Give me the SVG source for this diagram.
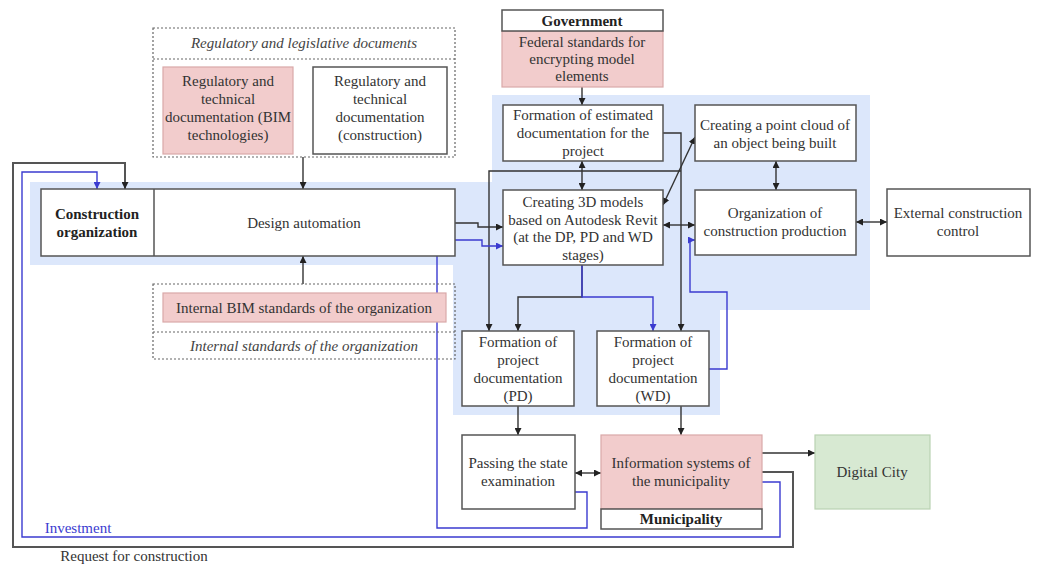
<svg xmlns="http://www.w3.org/2000/svg" width="1037" height="565" viewBox="0 0 1037 565">
<defs>
<style>
text{font-family:"Liberation Serif","Times New Roman",serif;font-size:15px;fill:#333;text-anchor:middle}
.b{font-weight:bold;fill:#222}
.i{font-style:italic;fill:#444}
.box{fill:#fff;stroke:#555;stroke-width:1.5}
.pink{fill:#f2cccc;stroke:#d9a8a8;stroke-width:1.2}
.green{fill:#d7e9d2;stroke:#b9d2b2;stroke-width:1.2}
.dash{fill:none;stroke:#666;stroke-width:1.2;stroke-dasharray:2 2}
.k{fill:none;stroke:#333;stroke-width:1.4}
.g{fill:none;stroke:#555;stroke-width:2}
.u{fill:none;stroke:#3b3bd0;stroke-width:1.4}
.ka{marker-end:url(#ak)}
.kd{marker-start:url(#ak);marker-end:url(#ak)}
.ua{marker-end:url(#au)}
</style>
<marker id="ak" viewBox="0 0 10 10" refX="10" refY="5" markerWidth="7" markerHeight="7" markerUnits="userSpaceOnUse" orient="auto-start-reverse"><path d="M0,0L10,5L0,10z" fill="#222"/></marker>
<marker id="au" viewBox="0 0 10 10" refX="10" refY="5" markerWidth="7" markerHeight="7" markerUnits="userSpaceOnUse" orient="auto-start-reverse"><path d="M0,0L10,5L0,10z" fill="#3b3bd0"/></marker>
</defs>
<rect width="1037" height="565" fill="#fff"/>
<path id="bg" d="M30,182H492V95H870V310H720V415H453V265H30Z" fill="#dce7fb"/>

<g id="connectors">
<path class="k ka" d="M303,157V189"/>
<path class="k ka" d="M303,284V256"/>
<path class="k ka" d="M582,87V105"/>
<path class="k kd" d="M582,161V190"/>
<path class="k ka" d="M455,223H478V227H503"/>
<path class="k kd" d="M663,205L695,137"/>
<path class="k kd" d="M663,225H695"/>
<path class="k kd" d="M776,161V190"/>
<path class="k kd" d="M856,222H887"/>
<path class="k ka" d="M663,133H681V331"/>
<path class="k ka" d="M681,171H489V331"/>
<path class="k ka" d="M582,265V297H518V331"/>
<path class="u ua" d="M582,265V297H653V331"/>
<path class="u ua" d="M709,369H727V292H690V240H695"/>
<path class="u ua" d="M575,492H587V528H437V240H482V246H503"/>
<path class="k ka" d="M518,406V435"/>
<path class="k ka" d="M681,406V435"/>
<path class="k kd" d="M575,473H601"/>
<path class="k ka" d="M762,453H815"/>
<path class="g ka" d="M762,472H793V547H13V163H125V189"/>
<path class="u ua" d="M762,482H780V537H22V172H97V189"/>
<text x="78" y="533" style="fill:#3b3bd0">Investment</text>
<text x="134" y="561">Request for construction</text>
</g>

<g id="regulatory">
<rect class="dash" x="153" y="28" width="302" height="129"/>
<line class="dash" x1="153" y1="59" x2="455" y2="59"/>
<text class="i" x="304" y="48">Regulatory and legislative documents</text>
</g>
<g id="reg-bim">
<rect class="pink" x="163" y="67" width="130" height="87"/>
<text x="228" y="86">Regulatory and</text>
<text x="228" y="104">technical</text>
<text x="228" y="122">documentation (BIM</text>
<text x="228" y="140">technologies)</text>
</g>
<g id="reg-constr">
<rect class="box" x="313" y="67" width="134" height="87"/>
<text x="380" y="86">Regulatory and</text>
<text x="380" y="104">technical</text>
<text x="380" y="122">documentation</text>
<text x="380" y="140">(construction)</text>
</g>

<g id="construction-org">
<rect class="box" x="41" y="189" width="414" height="67"/>
<line x1="154" y1="189" x2="154" y2="256" stroke="#555" stroke-width="1.5"/>
<text class="b" x="97" y="219">Construction</text>
<text class="b" x="97" y="237">organization</text>
</g>
<g id="design-automation">
<text x="304" y="228">Design automation</text>
</g>

<g id="internal">
<rect class="dash" x="153" y="284" width="302" height="75"/>
<line class="dash" x1="153" y1="332" x2="455" y2="332"/>
<rect class="pink" x="163" y="293" width="283" height="29"/>
<text x="304" y="313">Internal BIM standards of the organization</text>
<text class="i" x="304" y="351">Internal standards of the organization</text>
</g>

<g id="government">
<rect class="pink" x="502" y="31" width="161" height="56"/>
<rect class="box" x="502" y="10" width="161" height="21"/>
<text class="b" x="582" y="26">Government</text>
<text x="582" y="47">Federal standards for</text>
<text x="582" y="64">encrypting model</text>
<text x="582" y="81">elements</text>
</g>

<g id="estimated">
<rect class="box" x="503" y="105" width="160" height="56"/>
<text x="583" y="120">Formation of estimated</text>
<text x="583" y="138">documentation for the</text>
<text x="583" y="156">project</text>
</g>

<g id="point-cloud">
<rect class="box" x="695" y="105" width="161" height="56"/>
<text x="775" y="130">Creating a point cloud of</text>
<text x="775" y="148">an object being built</text>
</g>

<g id="models3d">
<rect class="box" x="503" y="190" width="160" height="75"/>
<text x="583" y="207">Creating 3D models</text>
<text x="583" y="225">based on Autodesk Revit</text>
<text x="583" y="242">(at the DP, PD and WD</text>
<text x="583" y="260">stages)</text>
</g>

<g id="org-production">
<rect class="box" x="695" y="190" width="161" height="65"/>
<text x="775" y="218">Organization of</text>
<text x="775" y="236">construction production</text>
</g>

<g id="external">
<rect class="box" x="887" y="189" width="143" height="67"/>
<text x="958" y="218">External construction</text>
<text x="958" y="236">control</text>
</g>

<g id="pd">
<rect class="box" x="462" y="331" width="112" height="75"/>
<text x="518" y="347">Formation of</text>
<text x="518" y="365">project</text>
<text x="518" y="383">documentation</text>
<text x="518" y="401">(PD)</text>
</g>

<g id="wd">
<rect class="box" x="597" y="331" width="112" height="75"/>
<text x="653" y="347">Formation of</text>
<text x="653" y="365">project</text>
<text x="653" y="383">documentation</text>
<text x="653" y="401">(WD)</text>
</g>

<g id="state-exam">
<rect class="box" x="462" y="435" width="113" height="74"/>
<text x="518" y="468">Passing the state</text>
<text x="518" y="486">examination</text>
</g>

<g id="info-systems">
<rect class="pink" x="601" y="435" width="161" height="74"/>
<rect class="box" x="601" y="509" width="161" height="20"/>
<text x="681" y="468">Information systems of</text>
<text x="681" y="486">the municipality</text>
<text class="b" x="681" y="524">Municipality</text>
</g>

<g id="digital-city">
<rect class="green" x="815" y="435" width="115" height="74"/>
<text x="872" y="477">Digital City</text>
</g>
</svg>
